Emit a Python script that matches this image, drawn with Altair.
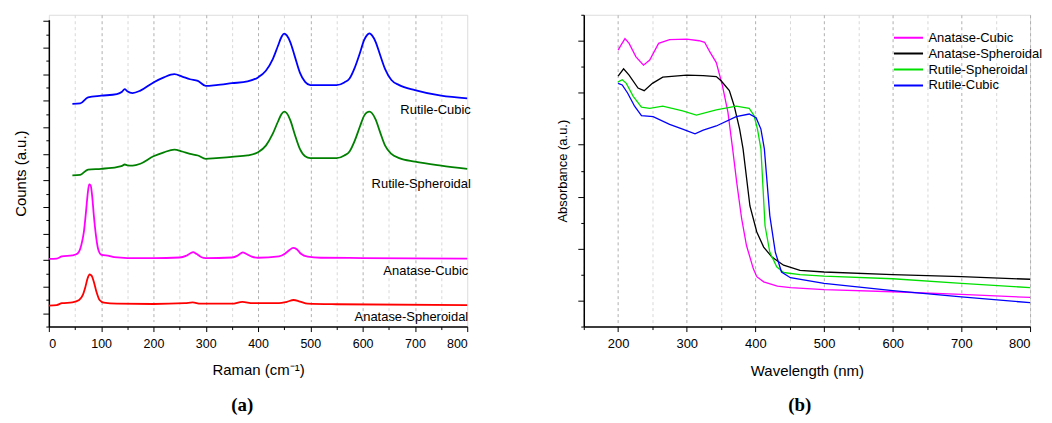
import altair as alt
import pandas as pd

FONT = "Liberation Sans"

# ---------------- Panel (a): Raman spectra (offset, arbitrary units) ----------------
rc_x = [45, 60, 75, 100, 130, 140, 145, 150, 160, 175, 200, 220, 240, 255, 270, 285, 300, 320, 350, 380,
        400, 415, 428, 438, 445, 450, 455, 462, 470, 480, 490, 500, 550, 565, 575, 585, 595, 603, 608,
        613, 618, 625, 633, 643, 655, 670, 700, 750, 800]
rc_y = [8.38, 8.40, 8.63, 8.69, 8.75, 8.84, 8.94, 8.86, 8.79, 8.88, 9.19, 9.38, 9.50, 9.41, 9.31, 9.25, 9.06, 9.09, 9.16, 9.23,
        9.38, 9.63, 10.06, 10.56, 10.91, 11.03, 10.96, 10.69, 10.19, 9.56, 9.21, 9.09, 9.09, 9.19, 9.34, 9.75, 10.31, 10.79, 10.96,
        11.04, 10.96, 10.71, 10.25, 9.69, 9.28, 9.09, 8.90, 8.69, 8.59]

rs_x = rc_x
rs_y = [5.69, 5.71, 5.91, 5.94, 6.00, 6.05, 6.10, 6.07, 6.06, 6.13, 6.41, 6.56, 6.66, 6.59, 6.50, 6.44, 6.31, 6.34, 6.39, 6.44,
        6.56, 6.81, 7.25, 7.71, 8.00, 8.09, 8.03, 7.75, 7.25, 6.69, 6.41, 6.34, 6.34, 6.44, 6.59, 7.00, 7.54, 7.94, 8.06,
        8.09, 8.03, 7.79, 7.34, 6.81, 6.50, 6.34, 6.21, 6.06, 5.94]

ac_x = [0, 15, 25, 45, 55, 62, 67, 71, 74, 77, 80, 83, 86, 90, 94, 100, 115, 125, 150, 200, 250, 262, 270, 276,
        282, 292, 300, 350, 360, 366, 371, 377, 388, 400, 440, 452, 460, 467, 474, 482, 495, 520, 600, 800]
ac_y = [2.55, 2.56, 2.64, 2.68, 2.75, 3.06, 3.56, 4.31, 4.94, 5.35, 5.31, 4.88, 4.19, 3.44, 2.94, 2.71, 2.66, 2.61, 2.58, 2.58,
        2.60, 2.66, 2.75, 2.80, 2.74, 2.61, 2.58, 2.60, 2.66, 2.74, 2.79, 2.74, 2.63, 2.59, 2.64, 2.75, 2.88, 2.96, 2.91,
        2.74, 2.63, 2.59, 2.58, 2.56]

as_x = [0, 15, 25, 45, 58, 65, 70, 74, 78, 82, 86, 91, 97, 105, 130, 200, 260, 275, 290, 350, 370, 390, 440, 455,
        468, 480, 495, 550, 800]
as_y = [0.79, 0.81, 0.88, 0.91, 1.00, 1.19, 1.50, 1.81, 1.96, 1.91, 1.69, 1.31, 1.00, 0.90, 0.86, 0.85, 0.88, 0.91,
        0.86, 0.86, 0.93, 0.88, 0.88, 0.93, 1.00, 0.94, 0.86, 0.84, 0.81]

raman_series = ["Rutile-Cubic", "Rutile-Spheroidal", "Anatase-Cubic", "Anatase-Spheroidal"]
raman_colors = ["#0000ff", "#008000", "#ff00ff", "#ff0000"]
raman_label_x = [805, 805, 800, 800]
raman_label_y = [8.15, 5.375, 2.09, 0.375]

# ---------------- Panel (b): UV-Vis absorbance ----------------
b_ac_x = [200, 204, 210, 216, 226, 237, 246, 259, 275, 300, 318, 326, 333, 343, 352, 360, 367, 373, 380, 387, 397,
          402, 412, 432, 451, 500, 600, 700, 800]
b_ac_y = [5.32, 5.41, 5.54, 5.45, 5.19, 5.03, 5.13, 5.45, 5.52, 5.53, 5.50, 5.47, 5.30, 5.08, 4.63, 4.12, 3.40, 2.75,
          2.07, 1.56, 1.11, 0.96, 0.86, 0.78, 0.75, 0.71, 0.67, 0.62, 0.56]

b_as_x = [200, 208, 216, 229, 238, 250, 265, 300, 324, 343, 350, 362, 369, 377, 382, 392, 402, 412, 424, 441, 465,
          500, 600, 700, 800]
b_as_y = [4.82, 4.96, 4.84, 4.59, 4.54, 4.68, 4.80, 4.84, 4.83, 4.81, 4.73, 4.54, 4.25, 3.80, 3.42, 2.32, 1.82, 1.53,
          1.34, 1.18, 1.08, 1.05, 1.00, 0.96, 0.91]

b_rs_x = [200, 206, 212, 222, 234, 246, 265, 294, 314, 343, 372, 391, 398, 403, 408, 414, 421, 431, 441, 465,
          500, 600, 700, 800]
b_rs_y = [4.71, 4.75, 4.68, 4.43, 4.22, 4.20, 4.24, 4.15, 4.07, 4.17, 4.24, 4.20, 4.06, 3.80, 3.42, 1.94, 1.43,
          1.15, 1.04, 1.00, 0.97, 0.92, 0.83, 0.75]

b_rc_x = [200, 206, 214, 224, 234, 251, 275, 294, 312, 324, 343, 372, 391, 401, 408, 413, 421, 429, 438, 451, 500,
          600, 700, 800]
b_rc_y = [4.68, 4.65, 4.49, 4.24, 4.06, 4.04, 3.89, 3.80, 3.71, 3.78, 3.86, 4.04, 4.09, 4.02, 3.80, 3.42, 2.13, 1.43,
          1.05, 0.94, 0.83, 0.69, 0.57, 0.46]

abs_series = ["Anatase-Cubic", "Anatase-Spheroidal", "Rutile-Spheroidal", "Rutile-Cubic"]
abs_colors = ["#ff00ff", "#000000", "#00e000", "#0000ff"]


def long(name, xs, ys):
    return pd.DataFrame({"x": xs, "y": ys, "series": name})


raman_df = pd.concat([
    long("Rutile-Cubic", rc_x, rc_y),
    long("Rutile-Spheroidal", rs_x, rs_y),
    long("Anatase-Cubic", ac_x, ac_y),
    long("Anatase-Spheroidal", as_x, as_y),
], ignore_index=True)

raman_labels = pd.DataFrame({"x": raman_label_x, "y": raman_label_y, "series": raman_series})

abs_df = pd.concat([
    long("Anatase-Cubic", b_ac_x, b_ac_y),
    long("Anatase-Spheroidal", b_as_x, b_as_y),
    long("Rutile-Spheroidal", b_rs_x, b_rs_y),
    long("Rutile-Cubic", b_rc_x, b_rc_y),
], ignore_index=True)

AX = dict(domainColor="black", domainWidth=1.5, tickColor="black", tickWidth=1,
          labelColor="black", titleColor="black", labelFont=FONT, titleFont=FONT,
          titleFontWeight="normal")


def major_x(values, title, label_size, grid_opacity):
    return alt.Axis(values=values, orient="bottom", tickSize=5, grid=True, gridDash=[3, 3],
                    gridColor="#b0b0b0", gridOpacity=grid_opacity, labelFontSize=label_size,
                    labelPadding=6, title=title, titleFontSize=15, titlePadding=13, **AX)


def minor_x(values):
    return alt.Axis(values=values, orient="bottom", tickSize=3, grid=True, gridDash=[3, 3],
                    gridColor="#d8d8d8", labels=False, domain=False, title="", **AX)


def major_y(values, title, title_size, pad):
    return alt.Axis(values=values, orient="left", tickSize=6, labels=False, grid=False,
                    title=title, titleFontSize=title_size, titlePadding=pad, **AX)


def minor_y(values):
    return alt.Axis(values=values, orient="left", tickSize=3, labels=False, grid=False,
                    domain=False, title="", **AX)


# ---- panel (a)
xs_a = alt.Scale(domain=[0, 800], nice=False)
ys_a = alt.Scale(domain=[0, 11.55], range=[313, 5], nice=False, zero=False)

lines_a = alt.Chart(raman_df).mark_line(strokeWidth=1.8, interpolate="monotone").encode(
    x=alt.X("x:Q", scale=xs_a,
            axis=major_x(list(range(0, 801, 100)), "Raman (cm⁻¹)", 12.5,
                         {"condition": {"test": "datum.value === 0 || datum.value === 800", "value": 0}, "value": 1})),
    y=alt.Y("y:Q", scale=ys_a, axis=major_y([v + 0.5 for v in range(0, 12)], "Counts (a.u.)", 15, 14)),
    color=alt.Color("series:N", scale=alt.Scale(domain=raman_series, range=raman_colors), legend=None),
)
minor_a = alt.Chart(raman_df).mark_point(opacity=0).encode(
    x=alt.X("x:Q", scale=xs_a, axis=minor_x(list(range(50, 800, 100)))),
    y=alt.Y("y:Q", scale=ys_a, axis=minor_y(list(range(0, 12)))),
)
text_a = alt.Chart(raman_labels).mark_text(
    align="right", baseline="middle", font=FONT, fontSize=13, color="black", dx=1
).encode(x=alt.X("x:Q", scale=xs_a, axis=None), y=alt.Y("y:Q", scale=ys_a, axis=None), text="series:N")

panel_a = alt.layer(minor_a, lines_a, text_a).resolve_axis(x="independent", y="independent").properties(
    width=420, height=313,
    title=alt.TitleParams("(a)", orient="bottom", anchor="middle", frame="bounds",
                          font="Liberation Serif", fontSize=19, fontWeight="bold", offset=18),
)

# ---- panel (b)
xs_b = alt.Scale(domain=[150, 800], nice=False, zero=False)
ys_b = alt.Scale(domain=[0, 6], nice=False, zero=False)

lines_b = alt.Chart(abs_df).mark_line(strokeWidth=1.3).encode(
    x=alt.X("x:Q", scale=xs_b, axis=major_x(list(range(200, 801, 100)), "Wavelength (nm)", 13, 1)),
    y=alt.Y("y:Q", scale=ys_b, axis=major_y([v + 0.5 for v in range(0, 6)], "Absorbance (a.u.)", 13, 8)),
    color=alt.Color(
        "series:N",
        scale=alt.Scale(domain=abs_series, range=abs_colors),
        legend=alt.Legend(title=None, orient="none", legendX=310, legendY=15, symbolType="stroke",
                          symbolSize=850, symbolStrokeWidth=2, labelFontSize=13, labelFont=FONT,
                          clipHeight=16, rowPadding=0, labelOffset=4, padding=0, labelColor="black"),
    ),
)
minor_b = alt.Chart(abs_df).mark_point(opacity=0).encode(
    x=alt.X("x:Q", scale=xs_b, axis=minor_x(list(range(150, 800, 100)))),
    y=alt.Y("y:Q", scale=ys_b, axis=minor_y(list(range(0, 7)))),
)

panel_b = alt.layer(minor_b, lines_b).resolve_axis(x="independent", y="independent").properties(
    width=448, height=313,
    title=alt.TitleParams("(b)", orient="bottom", anchor="middle", frame="bounds",
                          font="Liberation Serif", fontSize=19, fontWeight="bold", offset=18),
)

chart = alt.hconcat(panel_a, panel_b, spacing=84).resolve_scale(color="independent").properties(
    padding={"left": 5, "top": 5, "right": 0, "bottom": 0}
).configure_view(stroke=None).configure(background="white")

chart.save("out.html", embed_options={"renderer": "svg", "actions": False})
